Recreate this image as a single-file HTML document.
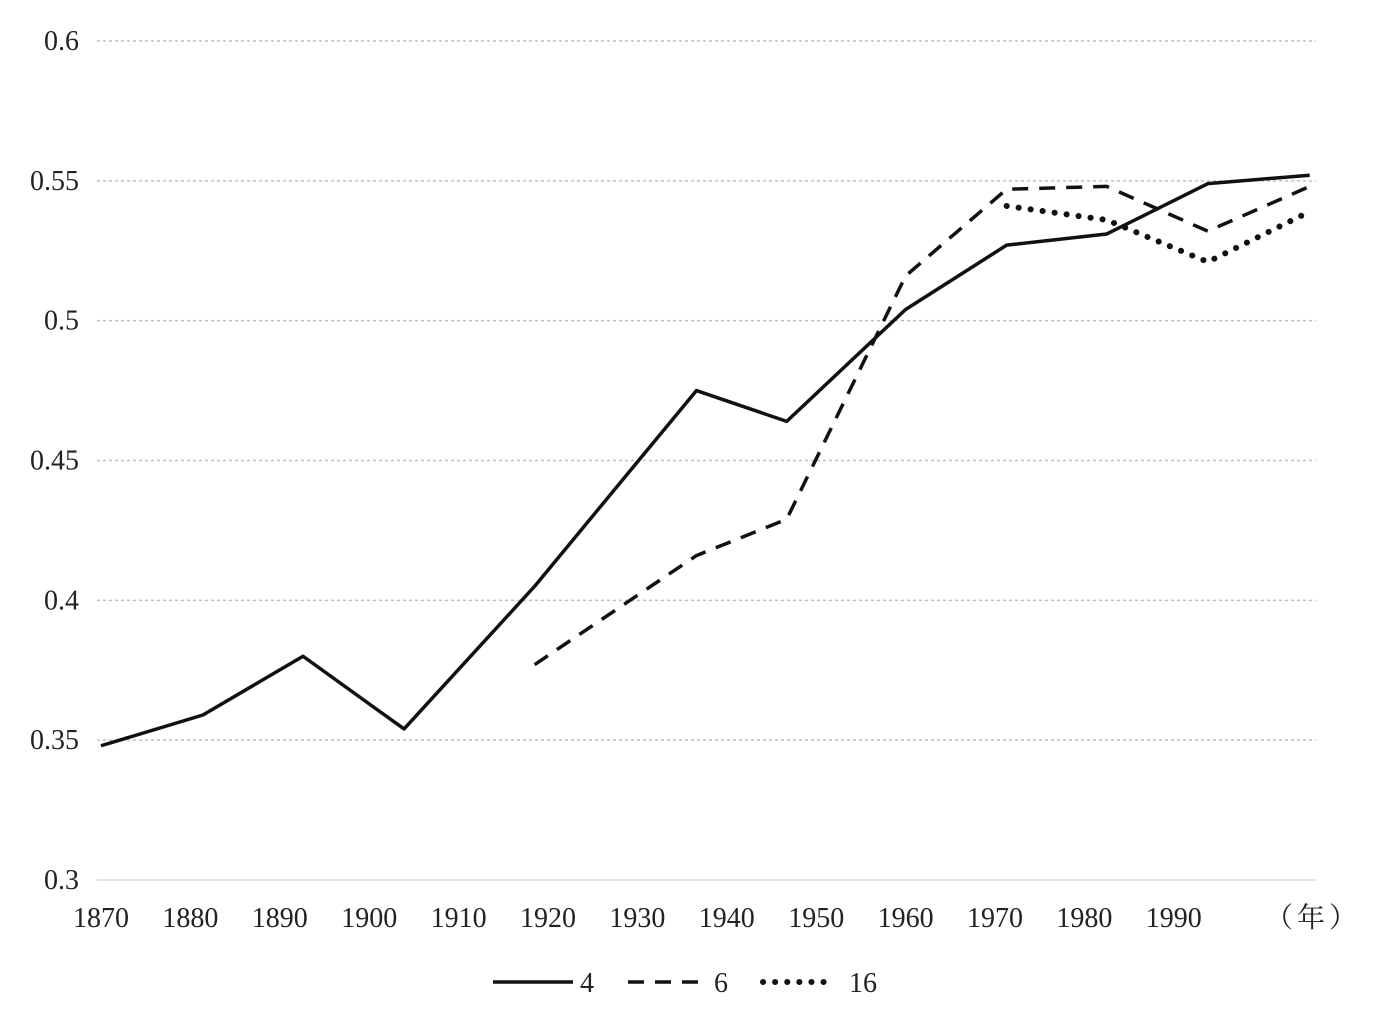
<!DOCTYPE html>
<html><head><meta charset="utf-8"><style>
body{margin:0;background:#fff;}
svg text{font-family:"Liberation Serif","Noto Serif CJK SC",serif;fill:#222;}
</style></head><body>
<svg id="chart" width="1383" height="1023" xmlns="http://www.w3.org/2000/svg"></svg>
<script>
const yTicks=[0.3,0.35,0.4,0.45,0.5,0.55,0.6];
const yTickLabels=["0.3","0.35","0.4","0.45","0.5","0.55","0.6"];
const xTickYears=[1870,1880,1890,1900,1910,1920,1930,1940,1950,1960,1970,1980,1990];
const pointYears=[1870,1881.4,1892.6,1903.9,1918.5,1936.6,1946.7,1960,1971.3,1982.5,1993.8,2005.2];
const series4=[0.348,0.359,0.380,0.354,0.405,0.475,0.464,0.504,0.527,0.531,0.549,0.552];
const series6=[null,null,null,null,0.377,0.416,0.429,0.516,0.547,0.548,0.532,0.548];
const series16=[null,null,null,null,null,null,null,null,0.541,0.536,0.521,0.539];

const svg=document.getElementById('chart');
const NS='http://www.w3.org/2000/svg';
const xs=y=>101+(y-1870)*8.94;
const ys=v=>880-(v-0.3)/0.3*839;
function mk(t,a){const e=document.createElementNS(NS,t);for(const k in a)e.setAttribute(k,a[k]);svg.appendChild(e);return e;}

yTicks.forEach((v,i)=>{
  const l=mk('line',{x1:97,x2:1316,y1:ys(v),y2:ys(v),stroke:i===0?'#d9d9d9':'#bfbfbf','stroke-width':1.5,'stroke-dasharray':i===0?'none':'3 3'});
  
  
  const t=mk('text',{x:79,y:ys(v)+9,'text-anchor':'end','font-size':28});
  t.textContent=yTickLabels[i];
  
  
});
xTickYears.forEach(y=>{
  const t=mk('text',{x:xs(y),y:927,'text-anchor':'middle','font-size':28});
  t.textContent=y;
  
  
});
const unit=mk('text',{x:1313,y:927,'text-anchor':'middle','font-size':28,'letter-spacing':4});
unit.textContent='（年）';



function drawLine(vals,dash,cap,name){
  const pts=[];vals.forEach((v,i)=>{if(v!==null)pts.push(xs(pointYears[i])+','+ys(v));});
  const p=mk('polyline',{points:pts.join(' '),fill:'none',stroke:'#111','stroke-width':dash==='dot'?6:3.5,'stroke-linejoin':'round','stroke-linecap':cap,'stroke-dasharray':dash==='dot'?'0.1 12':dash});
  
  
}
drawLine(series4,'none','butt','series-4-line');
drawLine(series6,'16 11','butt','series-6-line');
drawLine(series16,'dot','round','series-16-line');

function legend(x1,x2,dash,label,lx,name){
  const g=mk('line',{x1:x1,x2:x2,y1:982,y2:982,stroke:'#111','stroke-width':dash==='dot'?6:3.5,'stroke-linecap':dash==='dot'?'round':'butt','stroke-dasharray':dash==='dot'?'0.1 12':dash});
  
  
  const t=mk('text',{x:lx,y:992,'font-size':28});
  t.textContent=label;
  
  
}
legend(493,573,'none','4',580,'legend-4');
legend(628,708,'16 11','6',714,'legend-6');
legend(763,832,'dot','16',849,'legend-16');
</script>
</body></html>
